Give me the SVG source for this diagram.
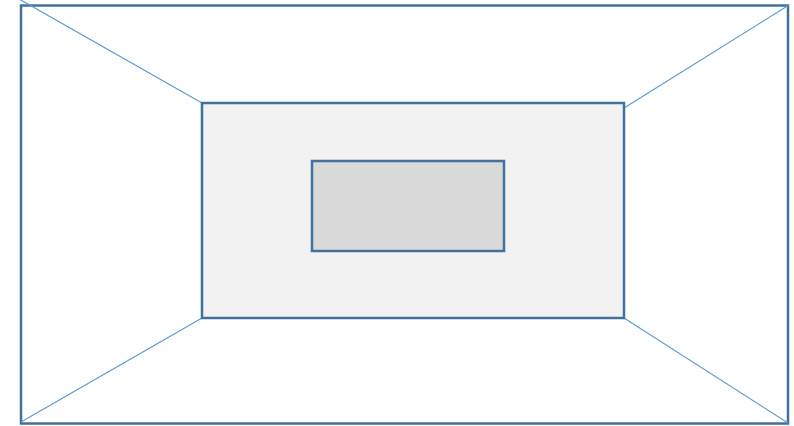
<svg xmlns="http://www.w3.org/2000/svg" width="794" height="426" viewBox="0 0 794 426">
<style>
.box{stroke:#41719c;stroke-width:2.5}
.ln{stroke:#5b9bd5;stroke-width:1.2;fill:none}
</style>
<rect width="794" height="426" fill="#ffffff"/>
<g id="outer"><rect class="box" x="21" y="5.5" width="767" height="418" fill="#ffffff"/></g>
<g id="connectors">
<line class="ln" x1="19" y1="-1" x2="202" y2="103"/>
<line class="ln" x1="789" y1="5" x2="624" y2="108"/>
<line class="ln" x1="21" y1="422" x2="202" y2="318"/>
<line class="ln" x1="624" y1="318" x2="788" y2="423"/>
</g>
<g id="middle"><rect class="box" x="202" y="103" width="422" height="215" fill="#f2f2f2"/></g>
<g id="inner"><rect class="box" x="312" y="161" width="192" height="90" fill="#d9d9d9"/></g>
</svg>
